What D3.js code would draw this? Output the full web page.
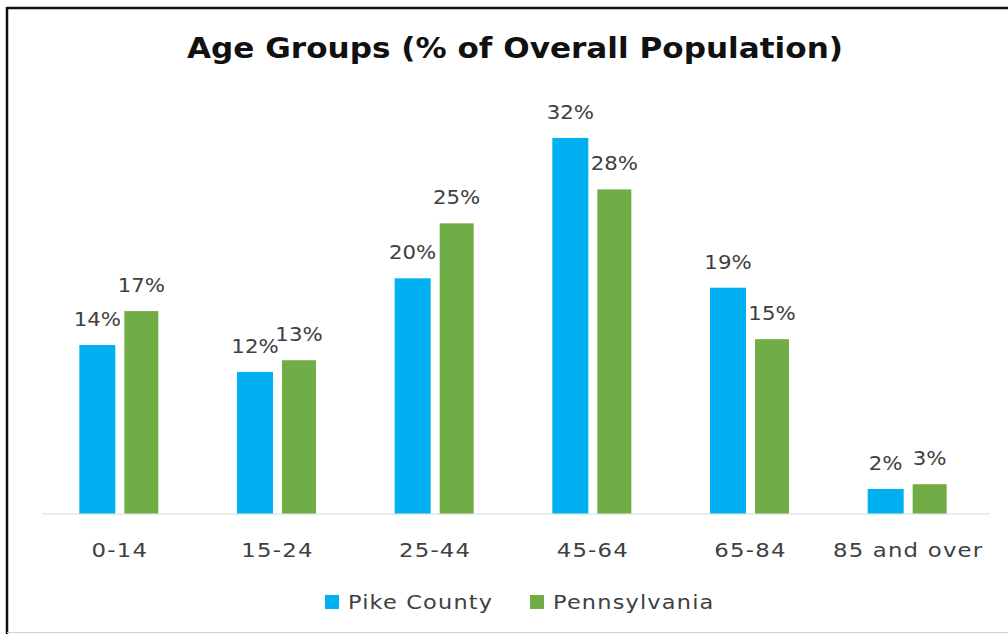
<!DOCTYPE html>
<html>
<head>
<meta charset="utf-8">
<script src="https://cdn.jsdelivr.net/npm/d3@7"></script>
<style>
  body { margin: 0; background: #fff; }
  text { font-family: "DejaVu Sans", Verdana, sans-serif; fill: #404040; }
</style>
</head>
<body>
<div id="chart"></div>
<script>
// chart data
const categories = ['0-14', '15-24', '25-44', '45-64', '65-84', '85 and over'];
const seriesNames = ['Pike County', 'Pennsylvania'];
const pikeCounty = [14.4, 12.1, 20.1, 32.1, 19.3, 2.1];
const pennsylvania = [17.3, 13.1, 24.8, 27.7, 14.9, 2.5];
const colors = ['#00B0F0', '#70AD47'];

const width = 1008;
const height = 635;

const svg = d3.select('#chart').append('svg')
    .attr('width', width)
    .attr('height', height);

// the source picture has wide letters, so widen the text a bit
function widen(sel, k, spacing) {
    sel.style('letter-spacing', spacing + 'px');
    sel.each(function () {
        const len = this.getComputedTextLength();
        d3.select(this)
            .attr('textLength', len * k)
            .attr('lengthAdjust', 'spacingAndGlyphs');
    });
}

// frame (right edge runs off the picture)
svg.append('line').attr('x1', 7).attr('y1', 8).attr('x2', width).attr('y2', 8)
    .attr('stroke', '#111').attr('stroke-width', 2.5);
svg.append('line').attr('x1', 7).attr('y1', 7).attr('x2', 7).attr('y2', 634)
    .attr('stroke', '#111').attr('stroke-width', 2.5);
svg.append('line').attr('x1', 7).attr('y1', 632.5).attr('x2', width).attr('y2', 632.5)
    .attr('stroke', '#d0d0d0').attr('stroke-width', 1);

const baseline = 513.5;
const x = d3.scaleBand().domain(categories).range([41, 987]);
const y = d3.scaleLinear().domain([0, 35]).range([baseline, baseline - 35 * 11.7]);

const barW = 36;
const barGap = 9;
const series = [pikeCounty, pennsylvania];

// axis line
svg.append('line')
    .attr('x1', 42).attr('x2', 990)
    .attr('y1', baseline + 0.5).attr('y2', baseline + 0.5)
    .attr('stroke', '#d9d9d9').attr('stroke-width', 1);

series.forEach((vals, s) => {
    const offset = s === 0 ? -(barW + barGap / 2) : barGap / 2;
    const w = s === 0 ? barW : barW - 2;
    const g = svg.append('g');
    g.selectAll('rect')
        .data(vals)
        .enter()
        .append('rect')
        .attr('x', (d, i) => x(categories[i]) + x.bandwidth() / 2 + offset)
        .attr('y', d => y(d))
        .attr('width', w)
        .attr('height', d => baseline - y(d))
        .attr('fill', colors[s]);

    const labels = g.selectAll('text')
        .data(vals)
        .enter()
        .append('text')
        .attr('x', (d, i) => x(categories[i]) + x.bandwidth() / 2 + offset + w / 2)
        .attr('y', d => y(d) - 19)
        .attr('text-anchor', 'middle')
        .style('font-size', '19px')
        .text(d => Math.round(d) + '%');
    widen(labels, 1.12, 0);
});

// category labels
const ticks = svg.append('g').selectAll('text')
    .data(categories)
    .enter()
    .append('text')
    .attr('x', d => x(d) + x.bandwidth() / 2)
    .attr('y', 557)
    .attr('text-anchor', 'middle')
    .style('font-size', '19px')
    .text(d => d);
widen(ticks, 1.2, 1);

// title
svg.append('text')
    .attr('x', 515)
    .attr('y', 58)
    .attr('text-anchor', 'middle')
    .attr('textLength', 656)
    .attr('lengthAdjust', 'spacingAndGlyphs')
    .style('font-size', '29px')
    .style('font-weight', 'bold')
    .style('fill', '#111')
    .text('Age Groups (% of Overall Population)');

// legend
const legendX = [325, 530];
const legend = svg.selectAll('.legend')
    .data(seriesNames)
    .enter()
    .append('g')
    .attr('class', 'legend')
    .attr('transform', (d, i) => `translate(${legendX[i]}, 595)`);

legend.append('rect')
    .attr('width', 14)
    .attr('height', 14)
    .attr('fill', (d, i) => colors[i]);

const legendText = legend.append('text')
    .attr('x', 23)
    .attr('y', 14)
    .style('font-size', '19px')
    .text(d => d);
widen(legendText, 1.18, 1);
</script>
</body>
</html>
